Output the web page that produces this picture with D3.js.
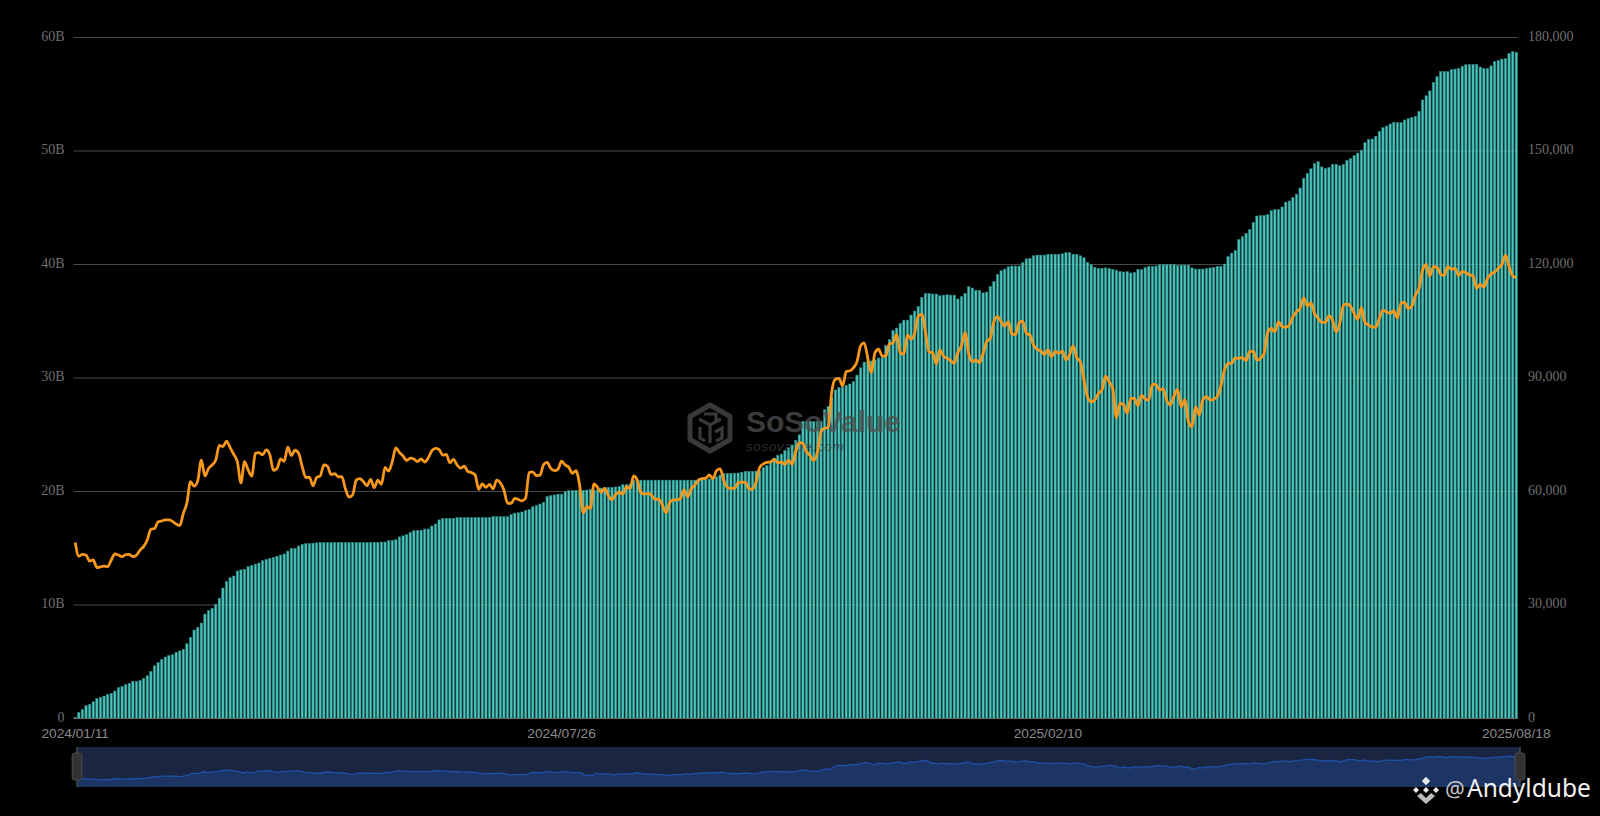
<!DOCTYPE html>
<html>
<head>
<meta charset="utf-8">
<script src="https://cdn.jsdelivr.net/npm/d3@7/dist/d3.min.js"></script>
<style>
html,body{margin:0;padding:0;background:#000;overflow:hidden}
svg{display:block}
</style>
</head>
<body>
<svg id="chart" width="1600" height="816"></svg>
<script>
const tickIndex = [0, 135, 270, 400];
const tickDates = ["2024/01/11", "2024/07/26", "2025/02/10", "2025/08/18"];
const leftTicks = [0, 10, 20, 30, 40, 50, 60];
const rightTicks = [0, 30, 60, 90, 120, 150, 180];

// cumulative value, billions
const cumulative = [
.1,.53,.8,1.13,1.25,1.48,1.75,1.87,1.98,2.13,
2.22,2.42,2.72,2.83,2.98,3.1,3.27,3.27,3.36,3.54,
3.77,4.15,4.65,4.92,5.2,5.42,5.56,5.62,5.83,5.95,
6.09,6.59,7.15,7.8,8.03,8.41,9.2,9.5,9.7,10.06,
10.6,11.5,12.08,12.4,12.55,13,13.1,13.14,13.38,13.5,
13.6,13.7,13.9,14,14.1,14.2,14.3,14.4,14.5,14.75,
15,15,15.2,15.35,15.4,15.42,15.45,15.48,15.5,15.5,
15.5,15.5,15.52,15.52,15.52,15.52,15.52,15.52,15.5,15.5,
15.5,15.5,15.52,15.52,15.52,15.55,15.55,15.67,15.7,15.75,
16,16.1,16.2,16.4,16.55,16.58,16.58,16.7,16.7,16.96,
17.14,17.5,17.64,17.64,17.64,17.64,17.7,17.7,17.7,17.7,
17.7,17.7,17.7,17.7,17.7,17.7,17.78,17.78,17.78,17.78,
17.78,17.96,18.1,18.13,18.2,18.34,18.43,18.66,18.78,18.9,
19.05,19.55,19.63,19.7,19.77,19.77,19.98,20.07,20.1,20.1,
20.1,20.1,20.13,20.2,20.1,20.2,20.3,20.35,20.37,20.37,
20.4,20.45,20.6,20.62,20.65,20.98,21,21,21,21,
21,21,21,21,21,21,21,21,21,21,
21,21,21,21.02,21.05,21.07,21.1,21.13,21.3,21.45,
21.57,21.6,21.6,21.62,21.63,21.7,21.78,21.78,21.78,21.8,
21.82,22.1,22.3,22.6,22.95,23.2,23.3,23.6,23.86,24.1,
24.5,25,26.18,26.18,26.18,26.18,26.18,26.18,27.2,27.5,
28.3,28.95,29.15,29.2,29.35,29.47,29.68,30.26,30.9,31.4,
31.45,31.5,31.6,31.76,31.8,32.85,33.4,34.2,34.4,34.8,
35.1,35.1,35.55,35.9,36.3,37.1,37.46,37.46,37.4,37.4,
37.25,37.3,37.33,37.3,37.3,36.96,37.17,37.46,38.05,37.93,
37.73,37.73,37.5,37.57,38.08,38.5,39.13,39.45,39.6,39.8,
39.87,39.87,39.87,40.16,40.5,40.55,40.77,40.83,40.83,40.83,
40.9,40.9,40.9,40.9,40.95,41.04,41.04,40.9,40.9,40.77,
40.6,40.2,40,39.75,39.66,39.66,39.7,39.66,39.57,39.5,
39.37,39.34,39.37,39.25,39.3,39.57,39.57,39.72,39.84,39.84,
39.87,39.98,40,40,40,40,39.9,39.95,39.95,39.95,
39.7,39.6,39.6,39.6,39.66,39.7,39.75,39.84,39.84,40.04,
40.7,41,41.25,42.2,42.45,42.75,43.07,43.7,44.27,44.3,
44.33,44.4,44.75,44.83,44.83,45.07,45.5,45.6,45.9,46.2,
46.74,47.6,48.03,48.44,48.9,49.06,48.6,48.47,48.56,48.83,
48.83,48.7,48.83,49.18,49.33,49.6,49.82,50.08,50.73,51.03,
51.06,51.3,51.73,52.06,52.2,52.38,52.53,52.5,52.5,52.73,
52.85,52.94,53.05,53.5,54.5,54.87,55.3,56.05,56.55,57,
57,57,57.17,57.22,57.28,57.46,57.6,57.63,57.63,57.63,
57.4,57.28,57.28,57.5,57.87,57.96,58.1,58.14,58.6,58.75,
58.7];

// price, thousands
const price = [
46.5,42.9,43.4,43.2,41.6,41.9,39.9,40.1,40.3,40.1,
41.9,43.5,43.2,42.8,43.3,43.4,42.8,43.2,44.5,45.5,
47.2,50,50.2,52,52.2,52.5,52.5,52.1,51.4,51,
54.2,57,62.6,61.4,62.8,68.3,64.1,66.1,67,68.3,
72.2,71.9,73.3,71.6,69.8,67.9,62.3,67.9,65.7,64.1,
70.1,70.3,69.7,71,69.8,65.6,66.1,68.6,68,71.7,
69.5,70.9,70.1,66.6,63.7,63.8,61.5,63.7,64.1,67,
66.7,64.5,64.7,63.9,63.9,60.7,58.5,59.1,63,63.4,
62.6,61.5,63.2,61,63,61.9,66.4,65.4,67.9,71.5,
70.3,69.4,68.2,68.8,68.6,67.9,68.6,67.8,68.9,70.8,
71.4,71.1,69.6,69.8,67.6,68.5,67,66.2,66.7,65.3,
65,64.4,60.6,62,61.1,61.9,60.7,63,62.3,60.4,
56.9,56.9,58.2,57.9,57.5,58.2,65,65.2,64.2,64.3,
67.1,67.7,66.1,65.5,65.9,68,67,66.4,64.8,65.5,
61.7,54.4,56,55.5,62,61.1,59.8,60.8,58.9,57.8,
59.2,59.8,59.3,61.3,60.8,64.1,63,59.8,59.3,59.5,
59,57.9,58,56.4,54.4,57,57.8,57.8,58.2,60.4,
58.6,60.7,61.7,63,63.4,63.5,64.4,63.4,65.5,66,
63,61.1,60.8,60.8,62.3,62.5,62.4,60.8,60.6,62.6,
66.4,67.3,67.7,67.8,68.5,67.6,67.8,67.2,68.3,67.2,
70.5,72.9,72.7,70.5,69.5,68.2,70.3,75.8,76.7,76.9,
86.4,89.7,89.9,87.9,91.7,91.9,92.7,94.3,98.5,99.3,
95.2,91.4,96.7,97.6,95.8,95.8,99,99.3,101.5,96.7,
96.3,101.4,100.3,101.8,106.4,106.8,102.2,96.9,96.7,93.7,
97.4,95.8,95.2,94.6,93.9,96.7,98.5,102,96.5,94.3,
94.8,94,96.5,99.6,100.5,104.9,106.2,104.9,103.7,104.9,
101.6,101.5,104.6,105,101.8,101.4,98.7,97.6,97.2,96.2,
97.4,95.6,97.1,96.5,97.1,94.8,96.1,98.5,95.4,94.3,
89.5,85,83.7,84.2,85.9,86.8,90.5,89,87.2,79.5,
83.3,83,80.7,84.6,84.6,82.7,85.5,84.4,84.2,88.3,
88.3,86.8,87.2,84,82.9,85.2,87,82.4,84.2,78.5,
77.1,82.4,80.2,84.2,85.1,84.2,84.4,85.1,87.9,92.1,
93.8,93.9,95.3,95.2,95.4,94.6,97,97.1,94.7,95.2,
96.5,102,103.1,102.2,104.8,103.6,103.4,104,106.2,107.5,
108.4,111.2,109,109.9,107.1,105.8,104.7,104.7,106.4,105.3,
102.2,104.4,109.1,109.6,109,107.1,105.5,108.6,104.7,104,
103.5,103.4,105.8,107.9,107.5,107.1,107.8,105.8,109.7,110,
108.4,108.9,111.9,113.7,118.5,120,117,119.4,119.3,117.4,
117.1,119.4,118.7,119,117.1,118.2,117.8,117.3,117,113.7,
114.8,114,116.3,117.5,118,119,120,122.5,119.5,117,
116.5];

const svg = d3.select("#chart");
const plotLeft = 73.5, plotRight = 1518, plotTop = 37.5, plotBase = 718.5;

const x = d3.scaleBand().domain(d3.range(cumulative.length)).range([plotLeft, plotRight]).paddingInner(0.34).paddingOuter(0.15);
const center = i => x(i) + x.bandwidth() / 2;
const yBars = d3.scaleLinear().domain([0, 60]).range([plotBase, plotTop]);
const yPrice = d3.scaleLinear().domain([0, 180]).range([plotBase, plotTop]);

// grid under the bars
svg.append("g").selectAll("line").data(leftTicks).join("line")
  .attr("x1", plotLeft).attr("x2", plotRight)
  .attr("y1", d => yBars(d)).attr("y2", d => yBars(d))
  .attr("stroke", "#3c3c3c")
  .attr("stroke-width", 1);

// bars
svg.append("g").selectAll("rect").data(cumulative).join("rect")
  .attr("x", (d, i) => x(i))
  .attr("width", x.bandwidth())
  .attr("y", d => yBars(d))
  .attr("height", d => plotBase - yBars(d))
  .attr("fill", "#4bc6bc")
  .attr("stroke", "#2a7c7a")
  .attr("stroke-width", 0.6);

// faint grid showing through the bars
svg.append("g").selectAll("line").data(leftTicks).join("line")
  .attr("x1", plotLeft).attr("x2", plotRight)
  .attr("y1", d => yBars(d)).attr("y2", d => yBars(d))
  .attr("stroke", d => d === 0 ? "#666" : "rgba(255,255,255,0.07)")
  .attr("stroke-width", 1);

// axes
const leftAxis = d3.axisLeft(yBars).tickValues(leftTicks).tickSize(0).tickPadding(9)
  .tickFormat(d => d === 0 ? "0" : d + "B");
const gl = svg.append("g").attr("transform", `translate(${plotLeft},0)`).call(leftAxis);
gl.select(".domain").remove();
gl.selectAll("text").attr("font-family", "'Liberation Serif',serif").attr("font-size", 14).attr("fill", "#6e6e6e").attr("dy", "0.18em");

const rightAxis = d3.axisRight(yPrice).tickValues(rightTicks).tickSize(0).tickPadding(10)
  .tickFormat(d => d === 0 ? "0" : d3.format(",")(d * 1000));
const gr = svg.append("g").attr("transform", `translate(${plotRight},0)`).call(rightAxis);
gr.select(".domain").remove();
gr.selectAll("text").attr("font-family", "'Liberation Serif',serif").attr("font-size", 14).attr("fill", "#6e6e6e").attr("dy", "0.18em");

// watermark
const wm = svg.append("g").attr("opacity", 0.75);
wm.append("path")
  .attr("d", "M710,405 L730,416.5 L730,439.5 L710,451 L690,439.5 L690,416.5 Z")
  .attr("fill", "none").attr("stroke", "#4d4d4d").attr("stroke-width", 5).attr("stroke-linejoin", "round");
wm.append("path")
  .attr("d", "M699,419 L710,425 L721,419 M710,425 L710,443 M700,427 L700,438 L705,441 M715,432 L722,428 L722,438 L716,441 M704,414 L716,414 L716,421")
  .attr("fill", "none").attr("stroke", "#4d4d4d").attr("stroke-width", 3.2);
wm.append("text").attr("x", 746).attr("y", 432).attr("font-family", "'Liberation Sans',sans-serif")
  .attr("font-weight", 700).attr("font-size", 30).attr("fill", "#4f4f4f").text("SoSoValue");
wm.append("text").attr("x", 746).attr("y", 450.5).attr("font-family", "'Liberation Sans',sans-serif")
  .attr("font-style", "italic").attr("font-size", 13).attr("letter-spacing", 0.9).attr("fill", "#3f3f3f").text("sosovalue.com");

// price line
const line = d3.line().x((d, i) => center(i)).y(d => yPrice(d)).curve(d3.curveMonotoneX);
svg.append("path").datum(price).attr("d", line)
  .attr("fill", "none").attr("stroke", "#f7981d").attr("stroke-width", 2.8).attr("stroke-linejoin", "round");

// date labels
svg.append("g").selectAll("text").data(tickIndex).join("text")
  .attr("x", d => center(d)).attr("y", 738)
  .attr("text-anchor", "middle")
  .attr("font-family", "'Liberation Sans',sans-serif").attr("font-size", 13.7).attr("fill", "#8a8a8a")
  .text((d, i) => tickDates[i]);

// slider
const sTop = 747, sBottom = 787, sLeft = 77, sRight = 1520;
svg.append("rect").attr("x", sLeft).attr("y", sTop).attr("width", sRight - sLeft).attr("height", sBottom - sTop).attr("fill", "#1a2542");
const sx = d3.scaleLinear().domain([0, price.length - 1]).range([sLeft, sRight]);
const sy = d3.scaleLinear().domain([15, 153]).range([sBottom, sTop]);
svg.append("path").datum(price)
  .attr("d", d3.area().x((d, i) => sx(i)).y0(sBottom).y1(d => sy(d)))
  .attr("fill", "#1c3564");
svg.append("path").datum(price)
  .attr("d", d3.line().x((d, i) => sx(i)).y(d => sy(d)))
  .attr("fill", "none").attr("stroke", "#1f50a8").attr("stroke-width", 1.3);

[sLeft, sRight].forEach(hx => {
  svg.append("line").attr("x1", hx).attr("x2", hx).attr("y1", sTop).attr("y2", sBottom).attr("stroke", "#4a4a4a").attr("stroke-width", 1.5);
  svg.append("rect").attr("x", hx - 4.8).attr("y", 753).attr("width", 9.6).attr("height", 27).attr("rx", 2.5)
    .attr("fill", "#333").attr("stroke", "#4d4d4d").attr("stroke-width", 1);
});

// credit
const cr = svg.append("g");
const dm = (cx, cy, r, fill) => cr.append("path")
  .attr("d", `M${cx},${cy - r} L${cx + r},${cy} L${cx},${cy + r} L${cx - r},${cy} Z`).attr("fill", fill);
dm(1426, 781, 4.2, "#e8e8e8");
dm(1416, 790, 3, "#e8e8e8");
dm(1436, 790, 3, "#e8e8e8");
dm(1426, 790, 3, "#e8e8e8");
cr.append("path").attr("d", "M1417,796 L1426,804 L1435,796 L1431,793 L1426,798 L1421,793 Z").attr("fill", "#bdbdbd");
cr.append("text").attr("x", 1445).attr("y", 797).attr("font-family", "'Noto Sans',sans-serif")
  .attr("font-size", 22).attr("fill", "#c4c4c4").text("@");
cr.append("text").attr("x", 1467).attr("y", 797).attr("font-family", "'Noto Sans',sans-serif")
  .attr("font-size", 24.5).attr("fill", "#f2f2f2").text("Andyldube");
</script>
</body>
</html>
